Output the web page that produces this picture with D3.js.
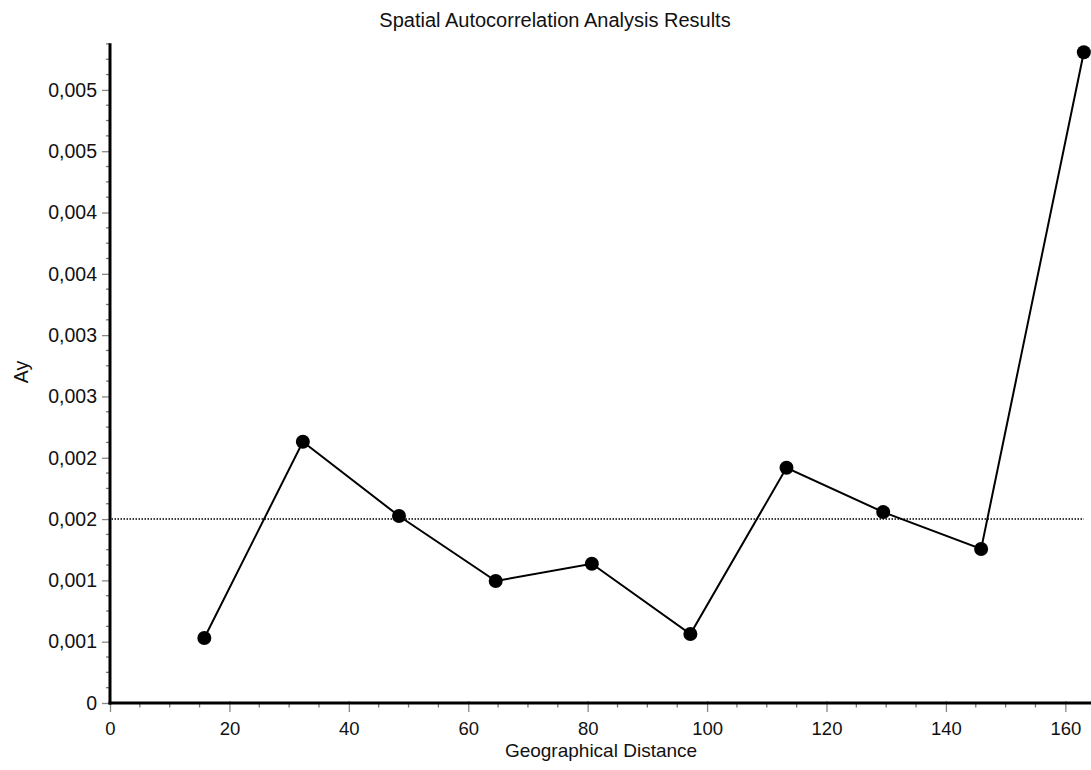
<!DOCTYPE html>
<html>
<head>
<meta charset="utf-8">
<script src="https://cdn.jsdelivr.net/npm/d3@7"></script>
<style>
  html, body { margin: 0; padding: 0; background: #fff; }
  svg { display: block; }
  text { font-family: "Liberation Sans", Arial, sans-serif; fill: #111; }
</style>
</head>
<body>
<svg id="chart" width="1091" height="770"></svg>
<script>
// ---- data ----
const distances = [15.8, 32.3, 48.4, 64.6, 80.7, 97.2, 113.3, 129.5, 145.9, 163.1];
const ayValues  = [0.000530, 0.002130, 0.001525, 0.000995, 0.001136, 0.000563, 0.001918, 0.001557, 0.001256, 0.005307];
const referenceLevel = 0.0015;
const xTickValues = [0, 20, 40, 60, 80, 100, 120, 140, 160];
const xTickLabels = ["0", "20", "40", "60", "80", "100", "120", "140", "160"];
const yTickValues = [0, 0.0005, 0.001, 0.0015, 0.002, 0.0025, 0.003, 0.0035, 0.004, 0.0045, 0.005];
const yTickLabels = ["0", "0,001", "0,001", "0,002", "0,002", "0,003", "0,003", "0,004", "0,004", "0,005", "0,005"];
const titleText = "Spatial Autocorrelation Analysis Results";
const xTitle = "Geographical Distance";
const yTitle = "Ay";

// ---- layout ----
(function () {
const svg = d3.select("#chart");
const mLeft = 110, mRight = 1091, mTop = 43.3, mBottom = 703;
const x = d3.scaleLinear().domain([0, 164.3]).range([mLeft, mRight]);
const y = d3.scaleLinear().domain([0, 0.00538]).range([mBottom, mTop]);
const fontSize = 19.5;

// minor ticks
const xMinor = d3.range(0, 164.3, 5).filter(v => v % 20 !== 0);
const yMinor = d3.range(0, 0.00538, 0.000125).filter((v, i) => i % 4 !== 0);

// x axis
const xAxis = d3.axisBottom(x).tickValues(xTickValues)
  .tickFormat((d, i) => xTickLabels[i]).tickSizeOuter(0).tickSizeInner(9).tickPadding(12);
const gx = svg.append("g").attr("transform", `translate(0,${mBottom})`).call(xAxis);
gx.select(".domain").remove();
gx.selectAll(".tick line").attr("stroke", "#888").attr("stroke-width", 1.3).attr("y1", -2);
gx.selectAll(".tick text").attr("font-size", 18.5).attr("fill", "#111")
  .attr("y", 32).attr("dy", 0)
  .attr("font-family", "Liberation Sans, Arial, sans-serif");
svg.append("g").selectAll("line").data(xMinor).join("line")
  .attr("x1", d => x(d)).attr("x2", d => x(d))
  .attr("y1", mBottom).attr("y2", mBottom + 4.5)
  .attr("stroke", "#777").attr("stroke-width", 1.3);

// y axis
const yAxis = d3.axisLeft(y).tickValues(yTickValues)
  .tickFormat((d, i) => yTickLabels[i]).tickSizeOuter(0).tickSizeInner(8).tickPadding(5);
const gy = svg.append("g").attr("transform", `translate(${mLeft},0)`).call(yAxis);
gy.select(".domain").remove();
gy.selectAll(".tick line").attr("stroke", "#888").attr("stroke-width", 1.3);
gy.selectAll(".tick text").attr("font-size", fontSize).attr("fill", "#111")
  .attr("font-family", "Liberation Sans, Arial, sans-serif");
svg.append("g").selectAll("line").data(yMinor).join("line")
  .attr("x1", mLeft - 4).attr("x2", mLeft)
  .attr("y1", d => y(d)).attr("y2", d => y(d))
  .attr("stroke", "#777").attr("stroke-width", 1.3);

// axis lines (thick)
svg.append("line").attr("x1", mLeft).attr("x2", mLeft).attr("y1", mTop).attr("y2", mBottom + 1.5)
  .attr("stroke", "#000").attr("stroke-width", 3);
svg.append("line").attr("x1", mLeft - 1.5).attr("x2", mRight).attr("y1", mBottom).attr("y2", mBottom)
  .attr("stroke", "#000").attr("stroke-width", 3);

// reference dotted line
svg.append("line")
  .attr("x1", mLeft + 1.5).attr("x2", x(163.1))
  .attr("y1", y(referenceLevel)).attr("y2", y(referenceLevel))
  .attr("stroke", "#000").attr("stroke-width", 1.5).attr("stroke-dasharray", "1.5,1.5");

// series line
const pts = distances.map((d, i) => [d, ayValues[i]]);
svg.append("path").datum(pts)
  .attr("fill", "none").attr("stroke", "#000").attr("stroke-width", 2)
  .attr("d", d3.line().x(d => x(d[0])).y(d => y(d[1])));
svg.append("g").selectAll("circle").data(pts).join("circle")
  .attr("cx", d => x(d[0])).attr("cy", d => y(d[1])).attr("r", 7).attr("fill", "#000");

// titles
svg.append("text").attr("x", 555).attr("y", 27).attr("text-anchor", "middle")
  .attr("font-size", 20).text(titleText);
svg.append("text").attr("x", 601).attr("y", 757).attr("text-anchor", "middle")
  .attr("font-size", 19).text(xTitle);
svg.append("text").attr("transform", "translate(28,372) rotate(-90)").attr("text-anchor", "middle")
  .attr("font-size", fontSize).text(yTitle);
})();
</script>
</body>
</html>
